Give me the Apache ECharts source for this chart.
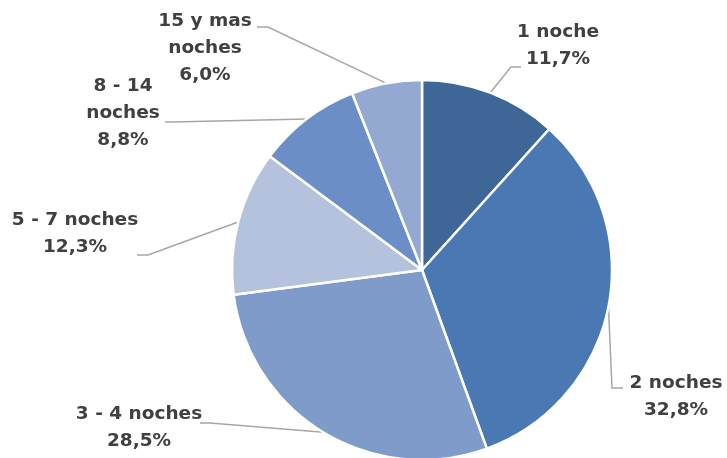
<!DOCTYPE html>
<html>
<head>
<meta charset="utf-8">
<script src="https://cdn.jsdelivr.net/npm/echarts@6/dist/echarts.min.js"></script>
<style>html,body{margin:0;padding:0;background:#fff;}#c{width:727px;height:458px;}</style>
</head>
<body>
<div id="c"></div>
<script>
var categories = ['1 noche', '2 noches', '3 - 4 noches', '5 - 7 noches', '8 - 14\nnoches', '15 y mas\nnoches'];
var values = [11.7, 32.8, 28.5, 12.3, 8.8, 6.0];
var colors = ['#3E6697', '#4978B3', '#7F9BCA', '#B4C2DE', '#6A8EC5', '#94A9D1'];

var chart = echarts.init(document.getElementById('c'), null, {renderer: 'canvas'});

// label layout: [label center x, y, elbow x, elbow y, end x, end y]
var layout = [
  [558, 46, 511, 67, 521, 67],
  [676, 397, 612, 388, 623, 388],
  [139, 428, 210, 423, 200, 423],
  [75, 234, 148, 255, 137, 255],
  [123, 113, 172, 122, 165, 122],
  [205, 48, 268, 27, 257, 27]
];

chart.setOption({
  animation: false,
  series: [{
    type: 'pie',
    center: [422, 270],
    radius: [0, 190],
    startAngle: 90,
    clockwise: true,
    data: categories.map(function (c, i) {
      return {name: c, value: values[i], itemStyle: {color: colors[i]}};
    }),
    itemStyle: {borderColor: '#ffffff', borderWidth: 2.5},
    label: {
      show: true,
      position: 'outside',
      formatter: function (p) {
        return p.name + '\n' + p.value.toFixed(1).replace('.', ',') + '%';
      },
      fontFamily: 'DejaVu Sans',
      fontWeight: 'bold',
      fontSize: 18.5,
      lineHeight: 27,
      color: '#404040',
      align: 'center',
      overflow: 'none'
    },
    labelLine: {
      show: true,
      lineStyle: {color: '#A6A6A6', width: 1.5}
    },
    labelLayout: function (params) {
      var L = layout[params.dataIndex];
      var pts = params.labelLinePoints;
      var start = pts ? pts[0] : [L[2], L[3]];
      return {
        x: L[0],
        y: L[1],
        align: 'center',
        verticalAlign: 'middle',
        labelLinePoints: [start, [L[2], L[3]], [L[4], L[5]]]
      };
    },
    emphasis: {disabled: true}
  }]
});
</script>
</body>
</html>
